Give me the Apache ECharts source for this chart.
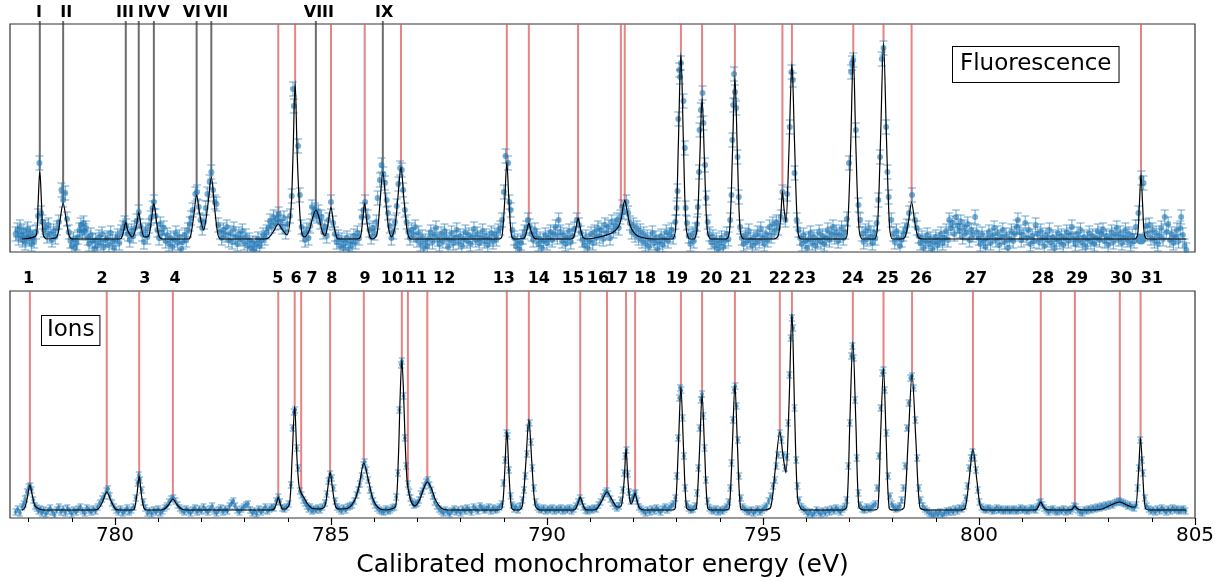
<!DOCTYPE html>
<html><head><meta charset="utf-8">
<script src="https://cdn.jsdelivr.net/npm/echarts@6/dist/echarts.min.js"></script>
<style>html,body{margin:0;padding:0;background:#fff}#c{width:1222px;height:582px}</style>
</head><body><div id="c"></div>
<script>
const xMin = 777.57, xMax = 805;
const tickLabels = [780, 785, 790, 795, 800, 805];
const minorTicks = [778,779,781,782,783,784,786,787,788,789,791,792,793,794,796,797,798,799,801,802,803,804];
const axisTitle = 'Calibrated monochromator energy (eV)';
const fluoTitle = 'Fluorescence';
const ionTitle = 'Ions';

// Fluorescence panel assignments (grey lines)
const romanLabels = ['I','II','III','IV','V','VI','VII','VIII','IX'];
const romanEnergy = [778.26, 778.80, 780.25, 780.55, 780.90, 781.89, 782.23, 784.65, 786.20];
const romanPeak = [82, 49, 30, 40, 49, 57, 75, 42, 80];
const romanLabelEnergy = [778.24, 778.87, 780.23, 780.74, 781.13, 781.78, 782.34, 784.72, 786.23];
// Fluorescence panel red lines (ion lines seen in fluorescence)
const fluoRedEnergy = [783.78, 784.17, 785.00, 785.78, 786.62, 789.07, 789.58, 790.72, 791.71, 791.80, 793.10, 793.59, 794.35, 795.45, 795.67, 797.09, 797.79, 798.44, 803.75];
const fluoRedPeak = [28, 171, 45, 49, 85, 90, 29, 34, 44, 52, 200, 155, 176, 61, 190, 200, 210, 50, 78];
// Ion panel lines
const ionLabels = ['1','2','3','4','5','6','7','8','9','10','11','12','13','14','15','16','17','18','19','20','21','22','23','24','25','26','27','28','29','30','31'];
const ionEnergy = [778.03, 779.81, 780.56, 781.34, 783.78, 784.16, 784.31, 784.98, 785.76, 786.64, 786.78, 787.23, 789.07, 789.58, 790.77, 791.39, 791.83, 792.04, 793.10, 793.59, 794.35, 795.39, 795.67, 797.08, 797.79, 798.45, 799.86, 801.43, 802.22, 803.26, 803.74];
const ionPeak = [33, 26, 42, 19, 21, 112, 25, 46, 55, 159, 30, 36, 88, 99, 21, 26, 70, 25, 131, 124, 134, 86, 206, 178, 150, 144, 69, 16, 12, 16, 80];
const ionLabelEnergy = [778.00, 779.70, 780.69, 781.39, 783.77, 784.19, 784.56, 785.02, 785.79, 786.41, 786.97, 787.62, 789.00, 789.81, 790.60, 791.18, 791.62, 792.27, 793.01, 793.80, 794.49, 795.39, 795.97, 797.08, 797.89, 798.66, 799.93, 801.48, 802.27, 803.29, 804.00];

const fluoErr = 7;
const ionErr = 3;
const fluoYMax = 228;
const ionYMax = 227;

const fluoPoints = [[777.70,18],[777.74,22],[777.77,14],[777.80,25],[777.83,17],[777.86,12],[777.89,21],[777.92,9],[777.95,16],[777.98,23],[778.01,13],[778.04,19],[778.07,8],[778.10,15],[778.13,11],[778.17,20],
[778.22,36],[778.25,89],[778.29,39],[778.32,30],[778.36,22],[778.39,25],[778.43,16],[778.46,27],[778.50,18],[778.54,12],[778.58,21],[778.62,15],[778.66,24],
[778.70,30],[778.76,62],[778.80,52],[778.85,59],[778.89,33],[778.93,20],[778.97,11],[779.00,6],[779.04,13],[779.08,4],[779.11,9],[779.14,15],[779.18,22],[779.21,27],[779.24,19],[779.27,29],[779.30,21],[779.33,24],[779.37,14],[779.40,8],[779.44,17],[779.48,11],[779.52,3],[779.55,12],[779.59,6],[779.63,15],[779.67,9],[779.70,18],[779.74,5],[779.78,12],[779.82,14],[779.86,7],[779.90,19],[779.94,10],[779.98,4],[780.02,13],[780.06,16],[780.10,9],[780.14,20],
[780.19,24],[780.22,29],[780.26,26],[780.30,18],[780.34,12],[780.38,21],[780.42,16],[780.46,24],[780.50,31],[780.55,40],[780.59,26],[780.63,18],[780.67,10],[780.71,22],[780.75,15],[780.79,26],[780.83,34],[780.87,44],[780.90,50],[780.94,36],[780.98,22],[781.02,14],[781.05,28],[781.09,19],[781.13,24],[781.17,11],[781.21,17],[781.25,8],[781.29,14],[781.33,5],[781.37,12],[781.41,19],[781.45,9],[781.49,15],[781.53,3],[781.57,10],[781.61,17],[781.65,12],[781.69,22],[781.73,28],[781.76,34],[781.80,42],[781.86,58],[781.90,60],[781.94,45],[781.98,32],[782.02,24],[782.06,30],[782.10,44],[782.14,58],[782.19,70],[782.23,80],[782.27,62],[782.31,50],[782.35,48],[782.39,27],[782.43,20],[782.47,14],[782.51,22],[782.55,17],[782.59,25],[782.63,12],[782.67,19],[782.71,10],[782.75,23],[782.79,15],[782.83,8],[782.87,18],[782.91,13],[782.95,21],[782.99,9],[783.03,16],[783.07,6],[783.11,12],[783.15,4],[783.19,9],[783.23,3],[783.27,8],[783.31,13],[783.35,6],[783.39,11],[783.43,17],[783.47,14],[783.51,20],[783.55,24],[783.59,31],[783.63,26],[783.67,35],[783.71,29],[783.75,33],[783.79,38],[783.83,30],[783.87,25],[783.91,34],[783.95,20],[783.99,28],
[784.05,36],[784.09,56],[784.12,163],[784.14,146],[784.24,106],[784.28,57],[784.32,25],[784.36,18],[784.40,12],[784.44,22],[784.48,14],[784.52,26],[784.56,45],[784.60,38],[784.63,42],[784.67,36],[784.71,40],[784.75,30],[784.78,35],[784.82,20],[784.86,25],[784.90,16],[784.94,32],[785.00,50],[785.05,29],[785.09,18],[785.13,10],[785.17,15],[785.21,6],[785.25,12],[785.29,4],[785.33,9],[785.37,14],[785.41,3],[785.45,11],[785.49,7],[785.53,16],[785.57,10],[785.61,19],[785.65,14],[785.71,35],[785.75,42],[785.79,50],[785.85,35],[785.89,22],[785.93,15],[785.97,24],[786.01,19],[786.05,30],[786.08,54],[786.13,72],[786.17,87],[786.21,78],[786.25,69],[786.29,52],[786.32,39],[786.36,26],[786.40,14],[786.44,20],[786.48,30],[786.52,46],[786.56,68],[786.60,84],[786.64,82],[786.67,62],[786.71,42],[786.75,30],[786.79,20],[786.83,14],[786.87,22],[786.91,17],[786.95,25],[786.99,12],[787.03,19],[787.07,8],[787.11,15],[787.15,4],[787.19,11],[787.23,6],[787.27,14],[787.31,20],[787.35,10],[787.39,17],[787.43,24],[787.47,13],[787.51,8],[787.55,18],[787.59,11],[787.63,21],[787.67,15],[787.71,5],[787.75,12],[787.79,19],[787.83,9],[787.87,14],[787.91,22],[787.95,10],[787.99,16],[788.03,6],[788.07,13],[788.11,20],[788.15,11],[788.19,17],[788.23,8],[788.27,15],[788.31,23],[788.35,12],[788.39,18],[788.43,9],[788.47,14],[788.51,21],[788.55,11],[788.59,16],[788.63,7],[788.67,13],[788.71,19],[788.75,10],[788.79,17],[788.83,13],[788.87,21],[788.92,24],[788.96,32],[789.00,60],[789.04,96],[789.10,89],[789.13,50],[789.16,42],[789.20,22],[789.24,14],[789.28,6],[789.32,11],[789.36,3],[789.40,9],[789.44,15],[789.48,20],[789.52,24],[789.56,32],[789.60,26],[789.64,18],[789.68,12],[789.72,22],[789.76,16],[789.80,8],[789.84,13],[789.88,4],[789.92,11],[789.96,17],[790.00,9],[790.04,14],[790.08,20],[790.12,12],[790.16,18],[790.20,25],[790.24,15],[790.27,32],[790.31,20],[790.35,11],[790.39,17],[790.43,8],[790.47,14],[790.51,21],[790.55,10],[790.59,16],[790.63,23],[790.69,32],[790.74,27],[790.78,19],[790.82,12],[790.86,7],[790.90,15],[790.94,4],[790.98,11],[791.02,18],[791.06,9],[791.10,20],[791.14,14],[791.18,24],[791.22,16],[791.26,22],[791.30,13],[791.34,27],[791.38,19],[791.42,25],[791.46,14],[791.50,30],[791.54,21],[791.58,26],[791.62,32],[791.66,24],[791.70,35],[791.74,45],[791.78,40],[791.84,50],[791.88,39],[791.92,29],[791.96,20],[792.00,27],[792.04,17],[792.08,24],[792.12,14],[792.16,21],[792.20,11],[792.24,18],[792.28,8],[792.32,15],[792.36,5],[792.40,12],[792.44,19],[792.48,9],[792.52,14],[792.56,3],[792.60,10],[792.64,16],[792.68,7],[792.72,13],[792.76,20],[792.80,11],[792.84,17],[792.88,22],[792.92,15],
[792.97,30],[793.00,44],[793.02,61],[793.04,133],[793.06,182],[793.08,175],[793.10,189],[793.16,151],[793.19,104],[793.21,44],[793.24,29],[793.28,16],[793.32,8],[793.36,18],[793.40,11],[793.44,22],[793.47,28],[793.49,45],[793.52,80],[793.53,122],[793.56,142],[793.60,159],[793.62,129],[793.66,87],[793.69,54],[793.72,30],[793.76,18],[793.80,10],[793.84,15],[793.88,6],[793.92,12],[793.96,3],[794.00,9],[794.04,14],[794.08,5],[794.12,11],[794.16,18],[794.20,13],[794.24,32],[794.27,57],[794.29,112],[794.31,147],[794.33,178],[794.35,160],[794.38,144],[794.41,95],[794.44,55],[794.47,25],[794.51,14],[794.55,8],[794.59,17],[794.63,10],[794.67,21],[794.71,12],[794.75,6],[794.79,15],[794.83,9],[794.87,19],[794.91,11],[794.95,23],[794.99,14],[795.03,8],[795.07,18],[795.11,12],[795.15,25],[795.19,16],[795.23,28],[795.27,20],[795.31,30],[795.35,24],[795.41,35],[795.45,60],[795.52,32],[795.56,58],[795.62,125],[795.66,180],[795.69,172],[795.73,79],[795.78,32],[795.82,22],[795.86,14],[795.90,8],[795.94,17],[795.98,11],[796.02,4],[796.06,13],[796.10,19],[796.14,9],[796.18,15],[796.22,6],[796.26,12],[796.30,20],[796.34,10],[796.38,16],[796.42,8],[796.46,14],[796.50,22],[796.54,12],[796.58,18],[796.62,25],[796.66,15],[796.70,20],[796.74,11],[796.78,17],[796.82,24],[796.86,14],[796.90,20],[796.94,33],[796.99,89],[797.04,180],[797.06,189],[797.09,192],[797.15,122],[797.21,47],[797.25,32],[797.29,18],[797.33,10],[797.37,21],[797.41,13],[797.45,24],[797.49,15],[797.53,9],[797.57,19],[797.60,14],[797.63,29],[797.67,52],[797.71,95],[797.75,193],[797.79,204],[797.85,125],[797.88,80],[797.91,55],[797.97,32],[798.01,18],[798.05,10],[798.09,21],[798.13,14],[798.17,6],[798.21,12],[798.25,18],[798.29,22],[798.33,26],[798.38,39],[798.45,57],[798.52,32],[798.56,24],[798.60,16],[798.64,9],[798.68,14],[798.72,4],[798.76,11],[798.80,17],[798.84,8],[798.88,13],[798.92,3],[798.96,10],[799.00,15],[799.04,7],[799.08,12],[799.12,18],[799.16,9],[799.20,14],[799.24,21],[799.28,12],[799.31,32],[799.35,24],[799.39,29],[799.43,18],[799.47,35],[799.51,26],[799.55,21],[799.58,30],[799.62,15],[799.66,25],[799.70,19],[799.74,28],[799.78,12],[799.82,22],[799.86,17],[799.91,35],[799.95,20],[799.99,14],[800.03,8],[800.07,18],[800.11,11],[800.15,5],[800.19,14],[800.23,20],[800.27,9],[800.31,16],[800.35,24],[800.39,12],[800.43,19],[800.47,7],[800.51,15],[800.55,22],[800.59,10],[800.63,17],[800.67,4],[800.71,13],[800.75,21],[800.79,11],[800.83,18],[800.87,25],[800.90,32],[800.94,20],[800.98,12],[801.02,17],[801.07,29],[801.11,14],[801.15,22],[801.19,8],[801.23,16],[801.27,11],[801.31,27],[801.35,18],[801.39,10],[801.43,21],[801.47,14],[801.51,6],[801.55,17],[801.59,12],[801.63,22],[801.67,9],[801.71,15],[801.75,4],[801.79,13],[801.83,19],[801.87,10],[801.91,16],[801.95,7],[801.99,14],[802.03,20],[802.07,11],[802.11,17],[802.15,25],[802.19,13],[802.23,8],[802.27,18],[802.31,12],[802.35,22],[802.39,9],[802.43,15],[802.47,5],[802.51,13],[802.55,19],[802.59,10],[802.63,16],[802.67,8],[802.71,14],[802.75,21],[802.79,12],[802.83,18],[802.87,22],[802.91,11],[802.95,16],[802.99,7],[803.03,14],[803.07,20],[803.11,10],[803.15,17],[803.19,24],[803.23,13],[803.27,19],[803.31,9],[803.35,15],[803.39,22],[803.43,12],[803.47,18],[803.51,8],[803.55,16],[803.59,11],[803.63,25],[803.69,39],[803.76,74],[803.81,69],[803.86,26],[803.90,18],[803.94,27],[803.98,14],[804.02,22],[804.06,11],[804.10,19],[804.14,8],[804.18,16],[804.22,24],[804.26,13],[804.30,35],[804.34,20],[804.38,28],[804.42,12],[804.46,18],[804.50,9],[804.54,15],[804.58,22],[804.62,11],[804.66,24],[804.68,35],[804.72,17],[804.76,6],[804.80,2]];
const fluoHighlight = [[803.75, 13]];

const fluoFit = [[777.85,13],[778.18,17],[778.22,48],[778.26,82],[778.30,48],[778.34,17],[778.42,13],[778.65,15],[778.725,31],[778.80,49],[778.875,31],[778.95,15],[779.05,13],[780.10,13],[780.15,14],[780.20,21],[780.25,30],[780.30,21],[780.40,15],[780.50,27],[780.55,40],[780.60,27],[780.68,15],[780.78,16],[780.84,31],[780.90,49],[780.96,31],[781.02,16],[781.10,13],[781.70,13],[781.75,16],[781.82,35],[781.89,57],[781.96,38],[782.05,22],[782.15,47],[782.23,75],[782.30,47],[782.38,18],[782.45,13],[783.45,13],[783.55,14],[783.66,20],[783.78,28],[783.88,22],[783.98,17],[784.07,40],[784.12,95],[784.17,171],[784.22,95],[784.28,38],[784.33,18],[784.38,15],[784.50,22],[784.58,35],[784.65,42],[784.72,35],[784.80,20],[784.86,16],[784.93,28],[785.00,45],[785.06,28],[785.14,14],[785.20,13],[785.60,13],[785.68,15],[785.73,30],[785.78,49],[785.83,30],[785.90,15],[785.96,13],[786.06,17],[786.13,47],[786.20,80],[786.27,50],[786.34,22],[786.40,15],[786.48,25],[786.55,55],[786.62,85],[786.69,52],[786.77,20],[786.85,13],[788.90,13],[788.96,16],[789.02,50],[789.07,90],[789.12,50],[789.18,16],[789.25,13],[789.47,14],[789.53,21],[789.58,29],[789.63,21],[789.70,14],[789.78,13],[790.55,13],[790.62,15],[790.67,24],[790.72,34],[790.77,24],[790.83,15],[790.92,13],[791.10,14],[791.30,16],[791.50,19],[791.65,25],[791.72,34],[791.76,45],[791.80,52],[791.85,42],[791.92,27],[792.00,20],[792.10,16],[792.25,14],[792.45,13],[792.90,13],[792.98,25],[793.04,106],[793.10,200],[793.16,106],[793.22,25],[793.30,13],[793.40,13],[793.47,22],[793.53,84],[793.59,155],[793.65,84],[793.71,22],[793.80,13],[794.15,13],[794.23,23],[794.29,94],[794.35,176],[794.41,94],[794.47,23],[794.56,13],[795.25,13],[795.35,16],[795.41,35],[795.45,61],[795.49,42],[795.53,30],[795.60,100],[795.67,190],[795.73,110],[795.80,25],[795.88,13],[796.90,13],[796.96,25],[797.03,106],[797.09,200],[797.15,106],[797.22,25],[797.30,13],[797.58,13],[797.65,25],[797.72,111],[797.79,210],[797.86,111],[797.93,25],[798.00,13],[798.20,13],[798.29,15],[798.37,31],[798.44,50],[798.51,31],[798.59,15],[798.70,13],[803.60,13],[803.67,17],[803.71,45],[803.75,78],[803.79,45],[803.83,17],[803.90,13],[804.80,13]];

const ionPoints = [[777.70,6],[777.75,9],[777.80,5],[777.85,11],[777.89,14],[777.92,19],[777.96,26],[778.00,31],[778.04,32],[778.07,28],[778.11,18],[778.15,12],[778.19,10],[778.23,7],[778.27,9],[778.31,5],[778.35,8],[778.40,4],[778.45,7],[778.50,10],[778.55,6],[778.60,3],[778.65,8],[778.70,11],[778.75,6],[778.80,9],[778.85,5],[778.90,10],[778.95,7],[779.00,4],[779.05,8],[779.10,6],[779.15,9],[779.20,11],[779.25,7],[779.30,5],[779.35,10],[779.40,8],[779.45,6],[779.50,9],[779.55,7],[779.60,11],[779.65,15],[779.70,19],[779.75,22],[779.80,27],[779.84,29],[779.88,22],[779.93,15],[779.98,11],[780.03,8],[780.08,6],[780.13,9],[780.18,5],[780.23,7],[780.28,10],[780.33,6],[780.38,8],[780.43,11],[780.48,20],[780.52,35],[780.55,43],[780.58,38],[780.62,28],[780.66,16],[780.70,10],[780.75,5],[780.80,7],[780.85,4],[780.90,8],[780.95,6],[781.00,9],[781.05,5],[781.10,7],[781.15,10],[781.20,12],[781.25,16],[781.30,19],[781.35,20],[781.40,17],[781.45,13],[781.50,10],[781.55,8],[781.60,6],[781.65,9],[781.70,7],[781.75,5],[781.80,8],[781.85,10],[781.90,6],[781.95,9],[782.00,7],[782.05,11],[782.10,8],[782.15,6],[782.20,9],[782.25,12],[782.30,7],[782.35,5],[782.40,8],[782.45,10],[782.50,6],[782.55,9],[782.60,7],[782.65,12],[782.70,15],[782.74,17],[782.78,12],[782.83,8],[782.88,6],[782.93,9],[782.98,11],[783.03,13],[783.08,14],[783.13,8],[783.18,5],[783.23,7],[783.28,4],[783.33,9],[783.38,6],[783.43,8],[783.48,11],[783.53,7],[783.58,9],[783.63,11],[783.68,10],[783.73,17],[783.78,21],[783.82,16],[783.87,10],[783.92,9],[783.97,11],[784.02,14],[784.07,33],[784.11,90],[784.14,106],[784.17,108],[784.21,70],[784.24,50],[784.28,27],[784.32,23],[784.36,18],[784.40,15],[784.44,12],[784.48,9],[784.52,11],[784.56,7],[784.60,9],[784.65,8],[784.70,10],[784.75,8],[784.80,11],[784.86,15],[784.90,24],[784.94,37],[784.98,44],[785.02,40],[785.06,30],[785.10,17],[785.14,11],[785.19,9],[785.24,7],[785.29,10],[785.34,8],[785.39,11],[785.44,12],[785.49,13],[785.54,17],[785.59,23],[785.63,28],[785.67,34],[785.71,42],[785.75,53],[785.78,56],[785.82,48],[785.86,38],[785.90,28],[785.94,22],[785.98,17],[786.02,13],[786.07,10],[786.12,8],[786.17,7],[786.22,6],[786.27,9],[786.32,7],[786.37,8],[786.42,10],[786.47,11],[786.51,21],[786.55,45],[786.58,108],[786.62,153],[786.64,157],[786.68,122],[786.71,80],[786.74,52],[786.78,34],[786.81,26],[786.84,20],[786.88,16],[786.92,13],[786.96,14],[787.00,15],[787.04,18],[787.08,24],[787.12,27],[787.16,32],[787.20,36],[787.24,38],[787.28,33],[787.32,28],[787.36,22],[787.40,16],[787.45,12],[787.50,9],[787.55,7],[787.60,5],[787.65,8],[787.70,6],[787.75,4],[787.80,7],[787.85,9],[787.90,6],[787.95,8],[788.00,5],[788.05,9],[788.10,7],[788.15,10],[788.20,8],[788.25,6],[788.30,11],[788.35,9],[788.40,7],[788.45,12],[788.50,10],[788.55,8],[788.60,9],[788.65,11],[788.70,7],[788.75,10],[788.80,8],[788.85,9],[788.90,11],[788.95,14],[788.99,35],[789.03,58],[789.06,85],[789.09,82],[789.12,48],[789.16,22],[789.20,13],[789.24,9],[789.28,11],[789.33,8],[789.38,12],[789.43,18],[789.47,28],[789.50,42],[789.54,64],[789.57,90],[789.60,95],[789.63,76],[789.66,50],[789.70,30],[789.74,16],[789.78,11],[789.82,9],[789.87,8],[789.92,10],[789.97,7],[790.02,9],[790.07,8],[790.12,10],[790.17,7],[790.22,9],[790.27,8],[790.32,10],[790.37,7],[790.42,9],[790.47,8],[790.52,10],[790.57,7],[790.62,9],[790.67,12],[790.72,16],[790.76,20],[790.80,17],[790.84,11],[790.89,8],[790.94,7],[790.99,9],[791.04,8],[791.09,10],[791.14,9],[791.19,13],[791.24,16],[791.29,21],[791.34,25],[791.38,27],[791.42,24],[791.47,19],[791.52,15],[791.57,12],[791.62,10],[791.67,12],[791.71,18],[791.75,28],[791.78,45],[791.81,62],[791.84,68],[791.87,44],[791.90,26],[791.94,17],[791.98,20],[792.02,24],[792.05,25],[792.09,17],[792.13,11],[792.18,9],[792.23,7],[792.28,5],[792.33,8],[792.38,6],[792.43,9],[792.48,7],[792.53,10],[792.58,8],[792.63,6],[792.68,9],[792.73,11],[792.78,8],[792.83,10],[792.88,12],[792.93,14],[792.97,20],[793.00,42],[793.03,80],[793.06,120],[793.08,130],[793.11,128],[793.14,100],[793.17,62],[793.20,30],[793.24,14],[793.28,10],[793.33,8],[793.38,9],[793.43,12],[793.47,25],[793.50,50],[793.53,90],[793.56,118],[793.59,124],[793.62,102],[793.65,70],[793.68,38],[793.72,17],[793.76,10],[793.81,8],[793.86,7],[793.91,9],[793.96,6],[794.01,8],[794.06,7],[794.11,9],[794.16,11],[794.20,16],[794.24,30],[794.27,55],[794.30,98],[794.33,128],[794.36,132],[794.39,112],[794.42,78],[794.45,42],[794.49,20],[794.53,11],[794.58,9],[794.63,7],[794.68,6],[794.73,8],[794.78,5],[794.83,7],[794.88,9],[794.93,6],[794.98,8],[795.03,10],[795.08,12],[795.13,17],[795.18,22],[795.23,32],[795.28,38],[795.31,52],[795.35,63],[795.39,85],[795.43,78],[795.47,63],[795.51,50],[795.55,61],[795.58,95],[795.61,143],[795.64,180],[795.67,200],[795.70,190],[795.73,110],[795.77,58],[795.80,32],[795.84,18],[795.89,11],[795.94,9],[795.99,7],[796.04,4],[796.09,6],[796.14,3],[796.19,5],[796.24,8],[796.29,6],[796.34,4],[796.39,7],[796.44,5],[796.49,8],[796.54,6],[796.59,9],[796.64,7],[796.69,10],[796.74,8],[796.79,6],[796.84,9],[796.89,11],[796.93,18],[796.97,52],[797.01,95],[797.04,162],[797.07,172],[797.10,160],[797.13,118],[797.17,60],[797.21,25],[797.25,13],[797.30,9],[797.35,8],[797.40,11],[797.45,9],[797.50,10],[797.55,12],[797.60,14],[797.64,30],[797.68,62],[797.72,110],[797.76,145],[797.79,148],[797.82,128],[797.86,85],[797.90,42],[797.94,22],[797.98,14],[798.02,11],[798.07,9],[798.12,10],[798.17,12],[798.21,18],[798.25,30],[798.29,52],[798.33,90],[798.37,115],[798.41,140],[798.45,142],[798.49,130],[798.53,98],[798.57,60],[798.61,30],[798.65,18],[798.70,12],[798.75,9],[798.80,7],[798.85,5],[798.90,4],[798.95,3],[799.00,5],[799.05,4],[799.10,6],[799.15,3],[799.20,5],[799.25,7],[799.30,6],[799.35,8],[799.40,6],[799.45,9],[799.50,7],[799.55,10],[799.60,9],[799.65,12],[799.69,20],[799.73,32],[799.77,50],[799.81,60],[799.85,66],[799.89,60],[799.93,48],[799.97,28],[800.01,16],[800.06,11],[800.11,9],[800.16,8],[800.21,10],[800.26,9],[800.31,7],[800.36,8],[800.41,10],[800.46,8],[800.51,9],[800.56,7],[800.61,8],[800.66,9],[800.71,7],[800.76,8],[800.81,9],[800.86,7],[800.91,8],[800.96,10],[801.01,8],[801.06,9],[801.11,7],[801.16,8],[801.21,10],[801.26,9],[801.31,8],[801.35,11],[801.39,15],[801.43,16],[801.47,13],[801.51,10],[801.56,8],[801.61,6],[801.66,8],[801.71,9],[801.76,7],[801.81,6],[801.86,8],[801.91,7],[801.96,9],[802.01,6],[802.06,8],[802.11,7],[802.16,9],[802.20,12],[802.24,11],[802.29,8],[802.34,6],[802.39,5],[802.44,8],[802.49,7],[802.54,9],[802.59,8],[802.64,10],[802.69,9],[802.74,11],[802.79,10],[802.84,12],[802.89,11],[802.94,13],[802.99,12],[803.04,14],[803.09,13],[803.14,15],[803.19,16],[803.24,17],[803.29,16],[803.34,15],[803.39,14],[803.44,12],[803.49,13],[803.54,11],[803.59,10],[803.64,13],[803.67,30],[803.70,50],[803.73,78],[803.77,58],[803.80,45],[803.84,20],[803.88,12],[803.93,9],[803.98,7],[804.03,8],[804.08,6],[804.13,9],[804.18,7],[804.23,10],[804.28,8],[804.33,6],[804.38,9],[804.43,7],[804.48,10],[804.53,8],[804.58,9],[804.63,7],[804.68,8],[804.73,9],[804.78,7]];

const ionFit = [[777.85,8],[777.91,10],[777.97,20],[778.03,33],[778.09,22],[778.15,12],[778.25,9],[778.35,8],[779.50,8],[779.61,9],[779.71,16],[779.81,26],[779.91,17],[780.01,9],[780.10,8],[780.40,8],[780.45,9],[780.51,24],[780.56,42],[780.61,24],[780.67,10],[780.75,8],[781.05,8],[781.14,9],[781.24,13],[781.34,19],[781.44,13],[781.54,9],[781.65,8],[783.60,8],[783.68,9],[783.74,15],[783.78,21],[783.82,15],[783.88,9],[783.94,9],[784.04,14],[784.10,60],[784.16,112],[784.21,62],[784.26,32],[784.31,25],[784.38,20],[784.46,14],[784.55,10],[784.70,9],[784.85,11],[784.92,28],[784.98,46],[785.04,28],[785.11,11],[785.20,9],[785.40,10],[785.55,18],[785.65,32],[785.76,55],[785.88,35],[785.98,18],[786.10,10],[786.25,8],[786.40,9],[786.50,12],[786.56,60],[786.60,120],[786.64,159],[786.68,125],[786.72,72],[786.76,38],[786.80,26],[786.86,16],[786.94,12],[787.05,18],[787.15,30],[787.23,36],[787.32,30],[787.42,18],[787.55,10],[787.70,8],[788.85,8],[788.96,10],[789.02,45],[789.07,88],[789.12,45],[789.18,10],[789.26,8],[789.35,8],[789.43,12],[789.51,55],[789.58,99],[789.65,55],[789.73,12],[789.85,8],[790.60,8],[790.66,9],[790.72,15],[790.77,21],[790.82,15],[790.88,9],[790.95,8],[791.05,8],[791.15,9],[791.27,17],[791.39,26],[791.51,18],[791.62,11],[791.69,11],[791.74,16],[791.79,40],[791.83,70],[791.87,40],[791.91,20],[791.95,14],[792.00,19],[792.04,25],[792.08,18],[792.14,10],[792.25,8],[792.90,8],[792.97,10],[793.04,70],[793.10,131],[793.16,70],[793.23,10],[793.32,8],[793.40,8],[793.46,10],[793.53,66],[793.59,124],[793.65,66],[793.72,10],[793.82,8],[794.14,8],[794.22,10],[794.29,71],[794.35,134],[794.41,71],[794.48,10],[794.58,8],[795.05,8],[795.18,11],[795.28,47],[795.39,86],[795.47,60],[795.53,45],[795.60,110],[795.67,206],[795.73,110],[795.80,20],[795.88,9],[795.98,8],[796.85,8],[796.94,11],[797.01,95],[797.08,178],[797.15,95],[797.22,11],[797.32,8],[797.57,8],[797.66,10],[797.72,80],[797.79,150],[797.85,80],[797.92,10],[798.02,8],[798.18,8],[798.27,11],[798.36,77],[798.45,144],[798.54,77],[798.63,11],[798.75,8],[799.58,8],[799.68,10],[799.77,38],[799.86,69],[799.95,38],[800.04,10],[800.15,8],[801.25,8],[801.33,8.5],[801.38,12],[801.43,16],[801.48,12],[801.55,8.5],[801.65,8],[802.05,8],[802.14,8.3],[802.18,10],[802.22,12],[802.26,10],[802.32,8.3],[802.42,8],[802.65,8],[802.85,9],[803.05,13],[803.26,16],[803.42,13],[803.55,11],[803.62,11],[803.69,44],[803.74,80],[803.79,44],[803.85,10],[803.95,8],[804.80,8]];

const FONT = 'DejaVu Sans';
const BLUE = '#1f77b4';

function vlines(axis, energies, peaks, color, above) {
  return {
    type: 'custom', xAxisIndex: axis, yAxisIndex: axis === 0 ? 0 : 1, clip: false, silent: true, z: 1,
    data: energies.map((e, i) => [e, peaks[i]]),
    renderItem: (params, api) => {
      const p = api.coord([api.value(0), api.value(1)]);
      const cs = params.coordSys;
      return { type: 'line', shape: { x1: p[0], y1: p[1], x2: p[0], y2: cs.y - above }, style: { stroke: color, lineWidth: 2 } };
    }
  };
}
function vlabels(axis, energies, labels, offset) {
  return {
    type: 'custom', xAxisIndex: axis, yAxisIndex: axis === 0 ? 0 : 1, clip: false, silent: true, z: 6,
    data: energies.map((e, i) => [e, 0, i]),
    renderItem: (params, api) => {
      const p = api.coord([api.value(0), 0]);
      const cs = params.coordSys;
      return { type: 'text', x: p[0], y: cs.y - offset, style: { text: labels[api.value(2)], fontSize: 16, fontWeight: 'bold', fontFamily: FONT, fill: '#000', align: 'center', verticalAlign: 'middle' } };
    }
  };
}
function errbars(xi, yi, pts, err, cap, color, lw) {
  return {
    type: 'custom', xAxisIndex: xi, yAxisIndex: yi, clip: true, silent: true, z: 3,
    data: pts,
    renderItem: (params, api) => {
      const e = api.value(0), v = api.value(1);
      const lo = api.coord([e, v - err]), hi = api.coord([e, v + err]);
      const st = { stroke: color, lineWidth: lw };
      return { type: 'group', children: [
        { type: 'line', shape: { x1: lo[0], y1: lo[1], x2: hi[0], y2: hi[1] }, style: st },
        { type: 'line', shape: { x1: lo[0] - cap, y1: lo[1], x2: lo[0] + cap, y2: lo[1] }, style: st },
        { type: 'line', shape: { x1: hi[0] - cap, y1: hi[1], x2: hi[0] + cap, y2: hi[1] }, style: st }
      ] };
    }
  };
}

const chart = echarts.init(document.getElementById('c'), null, { renderer: 'canvas' });
chart.setOption({
  animation: false,
  backgroundColor: '#fff',
  grid: [
    { left: 10, top: 24, width: 1185, height: 228, show: true, borderColor: '#333', borderWidth: 1.2, backgroundColor: 'transparent' },
    { left: 10, top: 291, width: 1185, height: 227, show: true, borderColor: '#333', borderWidth: 1.2, backgroundColor: 'transparent' }
  ],
  xAxis: [
    { type: 'value', gridIndex: 0, min: xMin, max: xMax, axisLine: { show: false }, axisTick: { show: false }, axisLabel: { show: false }, splitLine: { show: false } },
    { type: 'value', gridIndex: 1, min: xMin, max: xMax, position: 'bottom',
      axisLine: { show: false }, splitLine: { show: false },
      axisTick: { show: true, customValues: tickLabels, length: 7, lineStyle: { color: '#000', width: 1.2 } },
      axisLabel: { show: true, customValues: tickLabels, fontSize: 20, fontFamily: FONT, color: '#000', margin: 8 },
      name: axisTitle, nameLocation: 'middle', nameGap: 35, nameTextStyle: { fontSize: 25, fontFamily: FONT, color: '#000' } },
    { type: 'value', gridIndex: 1, min: xMin, max: xMax, position: 'bottom', offset: 0,
      axisLine: { show: false }, splitLine: { show: false }, axisLabel: { show: false },
      axisTick: { show: true, customValues: minorTicks, length: 4, lineStyle: { color: '#000', width: 1 } } }
  ],
  yAxis: [
    { type: 'value', gridIndex: 0, min: 0, max: fluoYMax, show: false, splitLine: { show: false } },
    { type: 'value', gridIndex: 1, min: 0, max: ionYMax, show: false, splitLine: { show: false } }
  ],
  series: [
    vlines(0, romanEnergy, romanPeak, 'rgba(60,60,60,0.75)', 3),
    vlines(0, fluoRedEnergy, fluoRedPeak, 'rgba(222,90,90,0.75)', 0),
    vlines(1, ionEnergy, ionPeak, 'rgba(222,90,90,0.75)', 0),
    vlabels(0, romanLabelEnergy, romanLabels, 11),
    vlabels(1, ionLabelEnergy, ionLabels, 12.5),
    errbars(0, 0, fluoPoints, fluoErr, 4, 'rgba(31,119,180,0.55)', 1.2),
    { type: 'scatter', xAxisIndex: 0, yAxisIndex: 0, data: fluoPoints, symbol: 'circle', symbolSize: 6, itemStyle: { color: 'rgba(31,119,180,0.75)' }, silent: true, z: 4, clip: true },
    { type: 'scatter', xAxisIndex: 0, yAxisIndex: 0, data: fluoHighlight, symbol: 'circle', symbolSize: 11, itemStyle: { color: BLUE }, silent: true, z: 4 },
    { type: 'line', xAxisIndex: 0, yAxisIndex: 0, data: fluoFit, showSymbol: false, smooth: 0.3, lineStyle: { color: '#000', width: 1.2 }, silent: true, z: 5 },
    errbars(1, 1, ionPoints, ionErr, 3, 'rgba(31,119,180,0.6)', 1.2),
    { type: 'scatter', xAxisIndex: 1, yAxisIndex: 1, data: ionPoints, symbol: 'circle', symbolSize: 4, itemStyle: { color: 'rgba(31,119,180,0.8)' }, silent: true, z: 4, clip: true },
    { type: 'line', xAxisIndex: 1, yAxisIndex: 1, data: ionFit, showSymbol: false, smooth: 0.3, lineStyle: { color: '#000', width: 1.2 }, silent: true, z: 5 }
  ],
  graphic: [
    { type: 'text', left: 952, top: 46, z: 10, style: { text: fluoTitle, fontSize: 23, fontFamily: FONT, fill: '#000', backgroundColor: '#fff', borderColor: '#000', borderWidth: 1, padding: [6, 7, 6, 7] } },
    { type: 'text', left: 41, top: 315, z: 10, style: { text: ionTitle, fontSize: 23, fontFamily: FONT, fill: '#000', backgroundColor: '#fff', borderColor: '#000', borderWidth: 1, padding: [3, 5, 3, 5] } }
  ]
});
</script></body></html>
